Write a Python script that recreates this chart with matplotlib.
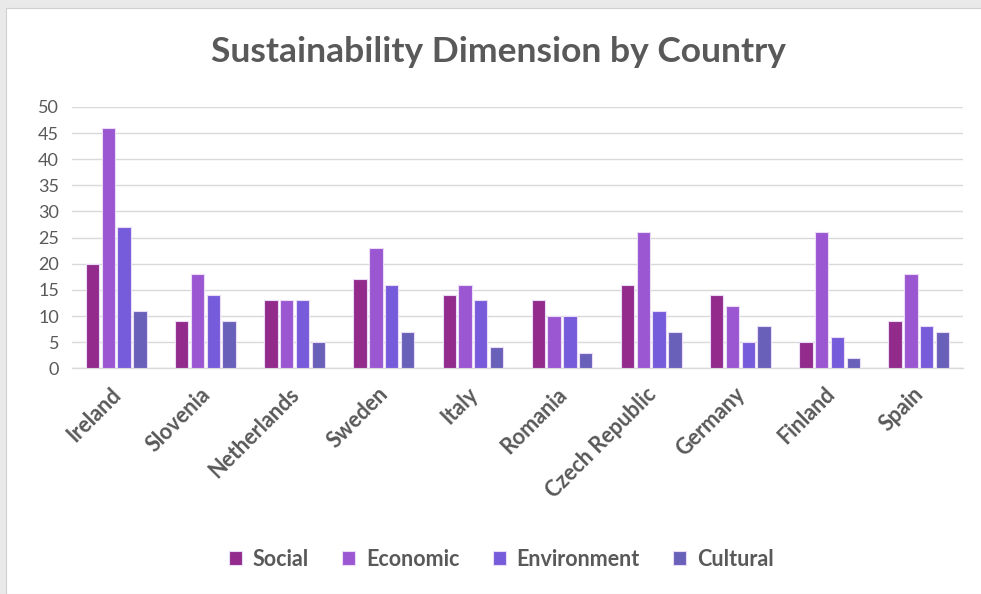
import matplotlib
matplotlib.use("Agg")
import matplotlib.pyplot as plt
import matplotlib.transforms as mtransforms
import numpy as np
from matplotlib.patches import Rectangle

# Data
countries = ["Ireland", "Slovenia", "Netherlands", "Sweden", "Italy",
             "Romania", "Czech Republic", "Germany", "Finland", "Spain"]
social = [20, 9, 13, 17, 14, 13, 16, 14, 5, 9]
economic = [46, 18, 13, 23, 16, 10, 26, 12, 26, 18]
environment = [27, 14, 13, 16, 13, 10, 11, 5, 6, 8]
cultural = [11, 9, 5, 7, 4, 3, 7, 8, 2, 7]

series = [("Social", social, "#922b8c"),
          ("Economic", economic, "#9b56d2"),
          ("Environment", environment, "#765cda"),
          ("Cultural", cultural, "#6960b9")]

plt.rcParams['font.family'] = ['Lato', 'DejaVu Sans']
txt = "#595959"

fig = plt.figure(figsize=(9.81, 5.94), dpi=100)
fig.patch.set_facecolor("#e9e9e9")
# white chart area inside the screenshot's grey frame
fig.patches.append(Rectangle((6 / 981, 0), 1, 1 - 8 / 594, transform=fig.transFigure,
                             facecolor="white", edgecolor="#d0d0d0", lw=0.8, zorder=-5))

ax = fig.add_axes([0.073, 0.380, 0.909, 0.440])
ax.set_zorder(2)
ax.set_facecolor("white")

x = np.arange(len(countries))
slot = 0.177
for i, (name, vals, col) in enumerate(series):
    ax.bar(x + (i - 1.5) * slot, vals, width=0.15, color=col, label=name,
           edgecolor="#eadcf7", linewidth=0.8, zorder=3)

ax.set_xlim(-0.5, len(countries) - 0.5)
ax.set_ylim(0, 50)
ax.set_yticks(range(0, 51, 5))
ax.grid(axis="y", color="#d9d9d9", linewidth=1, zorder=0)
for s in ["top", "right", "left"]:
    ax.spines[s].set_visible(False)
ax.spines["bottom"].set_color("#d9d9d9")
ax.spines["bottom"].set_linewidth(1)
ax.tick_params(axis="both", length=0, colors=txt)
ax.tick_params(axis="y", pad=9, labelsize=13)
ax.tick_params(axis="x", pad=11, labelsize=15.5)
ax.set_xticks(x)
ax.set_xticklabels(countries, rotation=45, ha="right", rotation_mode="anchor",
                   fontweight="bold")
# nudge the slanted labels a little to the left
shift = mtransforms.ScaledTranslation(-6 / 100, 0, fig.dpi_scale_trans)
for lab in ax.get_xticklabels():
    lab.set_transform(lab.get_transform() + shift)

fig.text(0.508, 0.912, "Sustainability Dimension by Country", ha="center", va="center",
         fontsize=25.5, fontweight="bold", color=txt, zorder=3)

leg = ax.legend(loc="center", bbox_to_anchor=(0.482, -0.73), ncol=4, frameon=False,
                fontsize=15.5, handlelength=0.6, handleheight=0.6, handletextpad=0.5,
                columnspacing=1.55)
for t in leg.get_texts():
    t.set_color(txt)
    t.set_fontweight("bold")

fig.savefig("out.png", dpi=100, facecolor=fig.get_facecolor())
